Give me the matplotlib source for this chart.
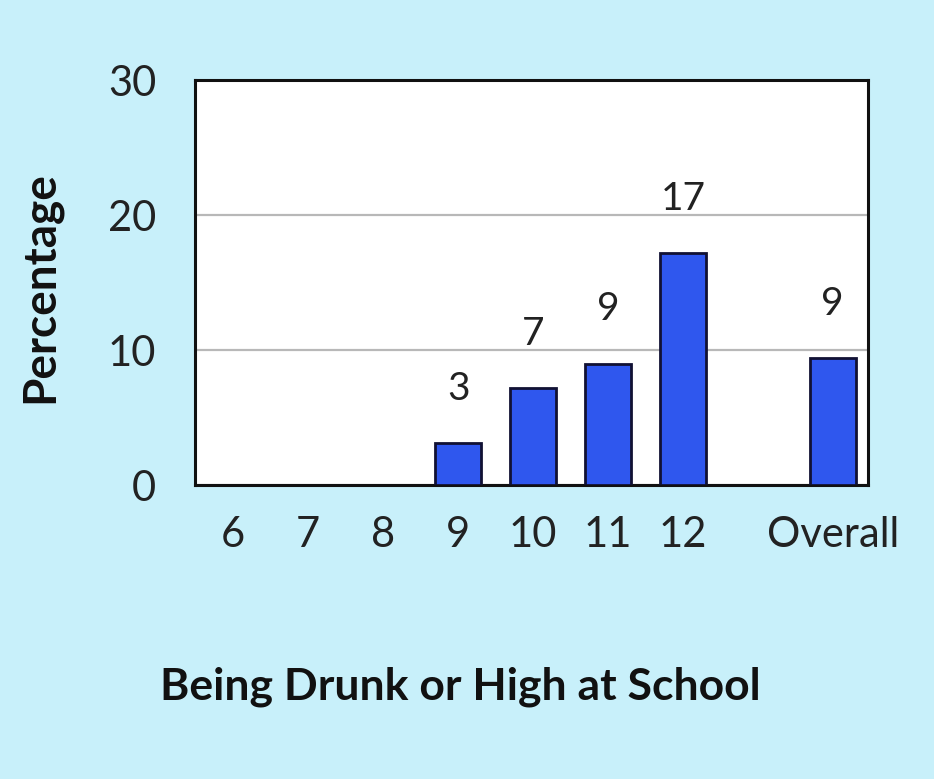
import numpy as np
import matplotlib
matplotlib.use('Agg')
import matplotlib.pyplot as plt


# data
grades = ['6', '7', '8', '9', '10', '11', '12', 'Overall']
percent = [np.nan, np.nan, np.nan, 3.1, 7.2, 9.0, 17.2, 9.4]
value_labels = ['', '', '', '3', '7', '9', '17', '9']
y_ticks = [0, 10, 20, 30]

bg = '#c8f0fa'
bar_color = '#2f57ee'

plt.rcParams['font.family'] = ['Lato', 'DejaVu Sans']

fig = plt.figure(figsize=(9.34, 7.79), dpi=100)
fig.patch.set_facecolor(bg)
ax = fig.add_axes([0.2088, 0.3774, 0.7205, 0.5199])
ax.set_facecolor('white')

# one empty slot between grade 12 and Overall
positions = list(range(len(grades) - 1)) + [len(grades)]

ax.bar(positions, percent, width=0.61, color=bar_color,
       edgecolor='#111133', linewidth=2, zorder=3)

for x, v, lab in zip(positions, percent, value_labels):
    if lab:
        ax.annotate(lab, (x, v), xytext=(0, 26), textcoords='offset points',
                    ha='center', va='bottom', fontsize=28, color='#222222')

ax.set_xlim(-0.51, 8.47)
ax.set_ylim(0, 30)
ax.set_yticks(y_ticks)
ax.set_xticks(positions)
ax.set_xticklabels(grades)
ax.tick_params(axis='both', length=0, labelsize=30, colors='#222222')
ax.tick_params(axis='y', pad=28)
ax.tick_params(axis='x', pad=22)
ax.yaxis.grid(True, color='#b8b8b8', linewidth=1.6, zorder=0)

for side in ['top', 'right', 'left', 'bottom']:
    ax.spines[side].set_color('#111111')
    ax.spines[side].set_linewidth(2.2)

fig.text(0.043, 0.632, 'Percentage', rotation=90, ha='center', va='center',
         fontsize=33, fontweight='bold', color='#111111')
fig.text(0.4925, 0.119, 'Being Drunk or High at School', ha='center',
         va='center', fontsize=32, fontweight='bold', color='#111111')

fig.savefig('out.png', dpi=100, facecolor=bg)
